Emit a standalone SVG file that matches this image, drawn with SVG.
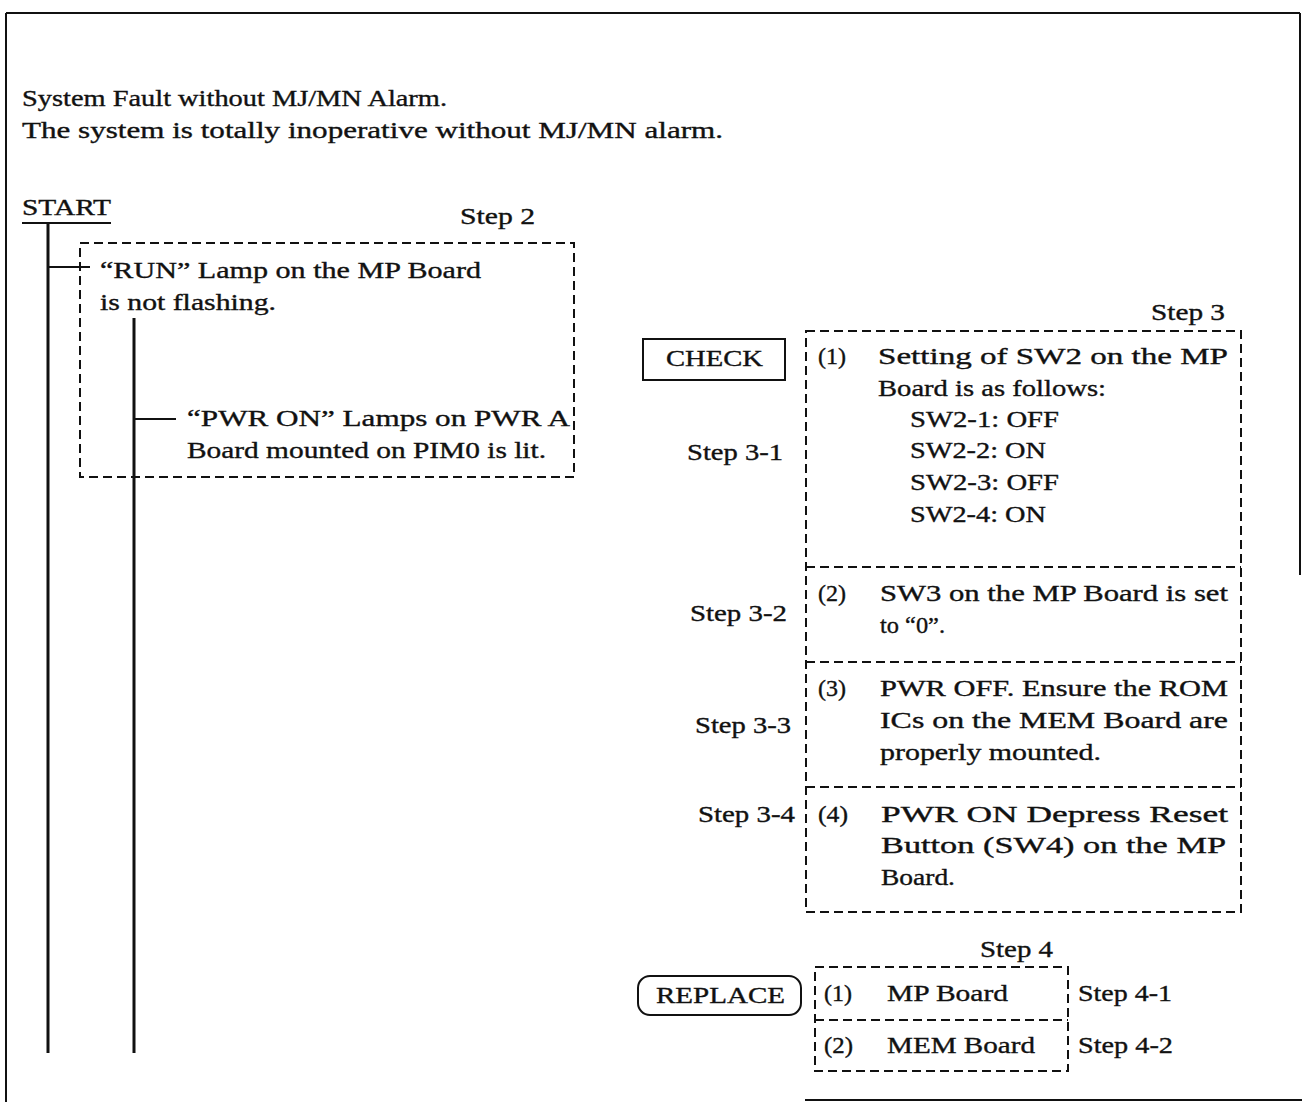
<svg xmlns="http://www.w3.org/2000/svg" width="1302" height="1102" viewBox="0 0 1302 1102">
<style>
  text { font-family: "Liberation Serif", "DejaVu Serif", serif; font-size: 23px; fill: #111; stroke: #111; stroke-width: 0.35; }
  .frame { stroke: #111; stroke-width: 2; fill: none; }
  .dash { stroke: #111; stroke-width: 2; fill: none; stroke-dasharray: 9 5; }
  .solid { stroke: #111; stroke-width: 2; fill: none; }
  .conn { stroke: #111; stroke-width: 3; fill: none; }
  .thin { stroke: #111; stroke-width: 2; fill: none; }
</style>
<rect width="1302" height="1102" fill="#fff"/>

<g id="frame">
  <line class="frame" x1="6" y1="13" x2="1300" y2="13"/>
  <line class="frame" x1="6" y1="13" x2="6" y2="1102"/>
  <line class="frame" x1="1300" y1="13" x2="1300" y2="575"/>
  <line class="frame" x1="805" y1="1100" x2="1302" y2="1100"/>
</g>

<g id="title">
  <text x="22" y="106" textLength="425" lengthAdjust="spacingAndGlyphs">System Fault without MJ/MN Alarm.</text>
  <text x="22" y="138" textLength="701" lengthAdjust="spacingAndGlyphs">The system is totally inoperative without MJ/MN alarm.</text>
</g>

<g id="start">
  <text x="22" y="215" textLength="89" lengthAdjust="spacingAndGlyphs">START</text>
  <line class="thin" x1="22" y1="223" x2="111" y2="223"/>
</g>

<g id="connectors">
  <line class="conn" x1="48" y1="223" x2="48" y2="1053"/>
  <line class="thin" x1="48" y1="267" x2="90" y2="267"/>
  <line class="conn" x1="134" y1="318" x2="134" y2="1053"/>
  <line class="thin" x1="134" y1="419" x2="176" y2="419"/>
</g>

<g id="step2">
  <text x="460" y="224" textLength="75" lengthAdjust="spacingAndGlyphs">Step 2</text>
  <rect class="dash" x="80" y="243" width="494" height="234"/>
  <text x="100" y="278" textLength="381" lengthAdjust="spacingAndGlyphs">“RUN” Lamp on the MP Board</text>
  <text x="100" y="310" textLength="176" lengthAdjust="spacingAndGlyphs">is not flashing.</text>
  <text x="187" y="426" textLength="383" lengthAdjust="spacingAndGlyphs">“PWR ON” Lamps on PWR A</text>
  <text x="187" y="458" textLength="359" lengthAdjust="spacingAndGlyphs">Board mounted on PIM0 is lit.</text>
</g>

<g id="check">
  <rect class="solid" x="643" y="339" width="142" height="41"/>
  <text x="666" y="366" textLength="97" lengthAdjust="spacingAndGlyphs">CHECK</text>
</g>

<g id="step3">
  <text x="1151" y="320" textLength="74" lengthAdjust="spacingAndGlyphs">Step 3</text>
  <rect class="dash" x="806" y="331" width="435" height="581"/>
  <line class="dash" x1="806" y1="567" x2="1241" y2="567"/>
  <line class="dash" x1="806" y1="662" x2="1241" y2="662"/>
  <line class="dash" x1="806" y1="787" x2="1241" y2="787"/>
</g>

<g id="step3-1">
  <text x="687" y="460" textLength="96" lengthAdjust="spacingAndGlyphs">Step 3-1</text>
  <text x="818" y="364" textLength="28" lengthAdjust="spacingAndGlyphs">(1)</text>
  <text x="878" y="364" textLength="350" lengthAdjust="spacingAndGlyphs">Setting of SW2 on the MP</text>
  <text x="878" y="396" textLength="228" lengthAdjust="spacingAndGlyphs">Board is as follows:</text>
  <text x="910" y="427" textLength="149" lengthAdjust="spacingAndGlyphs">SW2-1: OFF</text>
  <text x="910" y="458" textLength="136" lengthAdjust="spacingAndGlyphs">SW2-2: ON</text>
  <text x="910" y="490" textLength="149" lengthAdjust="spacingAndGlyphs">SW2-3: OFF</text>
  <text x="910" y="522" textLength="136" lengthAdjust="spacingAndGlyphs">SW2-4: ON</text>
</g>

<g id="step3-2">
  <text x="690" y="621" textLength="97" lengthAdjust="spacingAndGlyphs">Step 3-2</text>
  <text x="818" y="601" textLength="28" lengthAdjust="spacingAndGlyphs">(2)</text>
  <text x="880" y="601" textLength="348" lengthAdjust="spacingAndGlyphs">SW3 on the MP Board is set</text>
  <text x="880" y="633" textLength="65" lengthAdjust="spacingAndGlyphs">to “0”.</text>
</g>

<g id="step3-3">
  <text x="695" y="733" textLength="96" lengthAdjust="spacingAndGlyphs">Step 3-3</text>
  <text x="818" y="696" textLength="28" lengthAdjust="spacingAndGlyphs">(3)</text>
  <text x="880" y="696" textLength="348" lengthAdjust="spacingAndGlyphs">PWR OFF.  Ensure the ROM</text>
  <text x="880" y="728" textLength="348" lengthAdjust="spacingAndGlyphs">ICs on the MEM Board are</text>
  <text x="880" y="760" textLength="221" lengthAdjust="spacingAndGlyphs">properly mounted.</text>
</g>

<g id="step3-4">
  <text x="698" y="822" textLength="97" lengthAdjust="spacingAndGlyphs">Step 3-4</text>
  <text x="818" y="822" textLength="30" lengthAdjust="spacingAndGlyphs">(4)</text>
  <text x="881" y="822" textLength="347" lengthAdjust="spacingAndGlyphs">PWR ON Depress Reset</text>
  <text x="881" y="853" textLength="345" lengthAdjust="spacingAndGlyphs">Button (SW4) on the MP</text>
  <text x="881" y="885" textLength="74" lengthAdjust="spacingAndGlyphs">Board.</text>
</g>

<g id="replace">
  <rect class="solid" x="638" y="976" width="163" height="39" rx="12" ry="12"/>
  <text x="656" y="1003" textLength="129" lengthAdjust="spacingAndGlyphs">REPLACE</text>
</g>

<g id="step4">
  <text x="980" y="957" textLength="73" lengthAdjust="spacingAndGlyphs">Step 4</text>
  <rect class="dash" x="815" y="967" width="253" height="104"/>
  <line class="dash" x1="815" y1="1020" x2="1068" y2="1020"/>
  <text x="824" y="1001" textLength="28" lengthAdjust="spacingAndGlyphs">(1)</text>
  <text x="887" y="1001" textLength="121" lengthAdjust="spacingAndGlyphs">MP Board</text>
  <text x="824" y="1053" textLength="29" lengthAdjust="spacingAndGlyphs">(2)</text>
  <text x="887" y="1053" textLength="148" lengthAdjust="spacingAndGlyphs">MEM Board</text>
  <text x="1078" y="1001" textLength="94" lengthAdjust="spacingAndGlyphs">Step 4-1</text>
  <text x="1078" y="1053" textLength="95" lengthAdjust="spacingAndGlyphs">Step 4-2</text>
</g>
</svg>
